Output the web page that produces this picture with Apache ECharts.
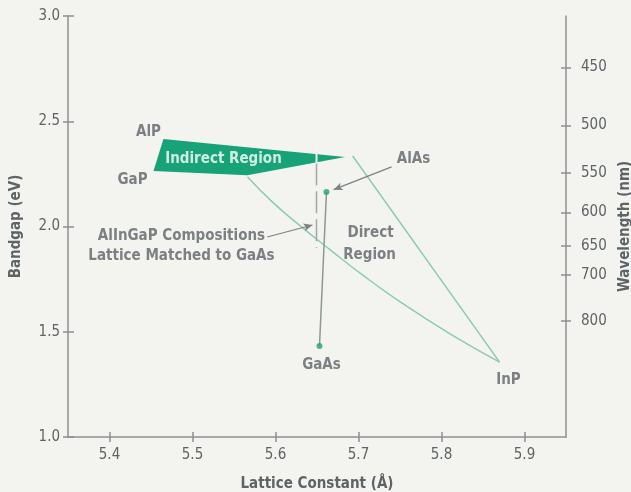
<!DOCTYPE html>
<html>
<head>
<meta charset="utf-8">
<script src="https://cdn.jsdelivr.net/npm/echarts@6/dist/echarts.min.js"></script>
<style>
  html, body { margin: 0; padding: 0; background: #f3f4ef; }
  #chart { width: 631px; height: 492px; }
</style>
</head>
<body>
<div id="chart"></div>
<script>
// ---- data ----
const xTicks = [5.4, 5.5, 5.6, 5.7, 5.8, 5.9];
const bandgapTicks = [1.0, 1.5, 2.0, 2.5, 3.0];
const wavelengthTicks = [450, 500, 550, 600, 650, 700, 800];

// Indirect region polygon: AlP, tip near AlAs, bend, GaP
const indirectRegion = [[5.465, 2.416], [5.684, 2.330], [5.566, 2.243], [5.453, 2.264]];
// line from AlAs-end of indirect region to InP
const lineToInP = [[5.693, 2.335], [5.870, 1.356]];
// bowed curve from GaP-side bend to InP
const curveToInP = [[5.5663, 2.235], [5.5964, 2.116], [5.6313, 1.998], [5.6663, 1.888], [5.7048, 1.770], [5.7506, 1.641], [5.8108, 1.489], [5.8699, 1.356]];
// GaAs - AlAs line
const gaAsAlAs = [[5.653, 1.432], [5.6614, 2.164]];
// AlInGaP lattice matched (dashed) and separator inside the green region
const matchedDashed = [[5.6494, 2.300], [5.6494, 1.898]];
const matchedSeparator = [[5.6494, 2.352], [5.6494, 2.300]];
const compoundDots = [[5.653, 1.432], [5.6614, 2.164]];
// arrows [from, to]
const arrowAlAs = [[5.7398, 2.283], [5.6700, 2.175]];
const arrowAlInGaP = [[5.590, 1.950], [5.6446, 2.007]];
// annotation texts
const labelTexts = ['AlP', 'GaP', 'AlAs', 'Direct', 'Region', 'AlInGaP Compositions', 'Lattice Matched to GaAs', 'GaAs', 'InP'];
const labelCoords = [[5.447, 2.449], [5.4277, 2.221], [5.7663, 2.321], [5.7145, 1.969], [5.7133, 1.865], [5.4867, 1.955], [5.4867, 1.860], [5.6554, 1.342], [5.8807, 1.271]];
const regionText = 'Indirect Region';
const regionTextCoord = [5.5373, 2.321];

// ---- styles ----
const FONT = "'Liberation Sans Narrow', 'DejaVu Sans Condensed', sans-serif";
const AXIS_COLOR = '#8d9092';
const TEXT_COLOR = '#5e6366';
const TEAL = '#8ccbb1';
const GREEN = '#17a377';

const toWl = v => Math.round(1240 / v);
const wlValues = wavelengthTicks.map(w => 1240 / w);

const chart = echarts.init(document.getElementById('chart'), null, { renderer: 'canvas' });

function lineSeries(data, color, width, type, extra) {
  return Object.assign({
    type: 'line', data: data, symbol: 'none', silent: true,
    lineStyle: { color: color, width: width, type: type || 'solid' },
    z: 3
  }, extra || {});
}

const option = {
  backgroundColor: '#f3f4ef',
  animation: false,
  grid: { left: 68, right: 65, top: 16, bottom: 55, containLabel: false, outerBoundsMode: 'none' },
  xAxis: [
    {
      type: 'value', min: 5.35, max: 5.95, position: 'bottom',
      name: 'Lattice Constant (Å)', nameLocation: 'middle', nameGap: 40,
      nameTextStyle: { fontFamily: FONT, fontWeight: 'bold', fontSize: 15, color: TEXT_COLOR },
      axisLine: { show: true, lineStyle: { color: AXIS_COLOR, width: 1.5 } },
      axisTick: { show: true, length: 5, customValues: xTicks, lineStyle: { color: AXIS_COLOR, width: 1.5 } },
      axisLabel: { customValues: xTicks, formatter: v => v.toFixed(1), fontFamily: FONT, fontSize: 15, color: TEXT_COLOR, margin: 11 },
      splitLine: { show: false }
    },
    {
      type: 'value', min: 5.35, max: 5.95, position: 'bottom',
      axisLine: { show: false },
      axisTick: { show: true, inside: true, length: 5, customValues: xTicks, lineStyle: { color: AXIS_COLOR, width: 1.5 } },
      axisLabel: { show: false },
      splitLine: { show: false }
    }
  ],
  yAxis: [
    {
      type: 'value', min: 1, max: 3, interval: 0.5, position: 'left',
      name: 'Bandgap (eV)', nameLocation: 'middle', nameGap: 44, nameRotate: 90,
      nameTextStyle: { fontFamily: FONT, fontWeight: 'bold', fontSize: 15, color: TEXT_COLOR },
      axisLine: { show: true, lineStyle: { color: AXIS_COLOR, width: 1.5 } },
      axisTick: { show: true, length: 5, lineStyle: { color: AXIS_COLOR, width: 1.5 } },
      axisLabel: { formatter: v => v.toFixed(1), fontFamily: FONT, fontSize: 15, color: TEXT_COLOR, margin: 8 },
      splitLine: { show: false }
    },
    {
      type: 'value', min: 1, max: 3, position: 'right',
      name: 'Wavelength (nm)', nameLocation: 'middle', nameGap: 48, nameRotate: 90,
      nameTextStyle: { fontFamily: FONT, fontWeight: 'bold', fontSize: 15, color: TEXT_COLOR },
      axisLine: { show: true, onZero: false, lineStyle: { color: AXIS_COLOR, width: 1.5 } },
      axisTick: { show: true, length: 5, customValues: wlValues, lineStyle: { color: AXIS_COLOR, width: 1.5 } },
      axisLabel: { customValues: wlValues, formatter: v => String(toWl(v)), fontFamily: FONT, fontSize: 15, color: TEXT_COLOR, margin: 15 },
      splitLine: { show: false }
    },
    {
      type: 'value', min: 1, max: 3, interval: 0.5, position: 'left',
      axisLine: { show: false },
      axisTick: { show: true, inside: true, length: 6, lineStyle: { color: AXIS_COLOR, width: 1.5 } },
      axisLabel: { show: false }, splitLine: { show: false }
    },
    {
      type: 'value', min: 1, max: 3, position: 'right',
      axisLine: { show: false },
      axisTick: { show: true, inside: true, length: 5, customValues: wlValues, lineStyle: { color: AXIS_COLOR, width: 1.5 } },
      axisLabel: { show: false }, splitLine: { show: false }
    }
  ],
  series: [
    {
      type: 'custom', silent: true, z: 2,
      data: [indirectRegion[0]],
      renderItem: function (params, api) {
        return {
          type: 'polygon',
          shape: { points: indirectRegion.map(p => api.coord(p)) },
          style: { fill: GREEN }
        };
      }
    },
    lineSeries(lineToInP, TEAL, 1.5),
    lineSeries(curveToInP, TEAL, 1.5, 'solid', { smooth: 0.5 }),
    lineSeries(gaAsAlAs, '#8e9896', 1.5),
    lineSeries(matchedDashed, '#a3a7a6', 1.5, [22, 6]),
    lineSeries(matchedSeparator, '#f3f4ef', 2, 'solid', { z: 4 }),
    {
      type: 'scatter', data: compoundDots, symbol: 'circle', symbolSize: 6, silent: true, z: 5,
      itemStyle: { color: '#2a9e78' }
    },
    {
      type: 'line', data: [], silent: true,
      markLine: {
        silent: true, symbol: ['none', 'arrow'], symbolSize: [6, 9], animation: false,
        label: { show: false },
        lineStyle: { color: '#7c8283', width: 1.2, type: 'solid' },
        data: [
          [{ coord: arrowAlAs[0] }, { coord: arrowAlAs[1] }],
          [{ coord: arrowAlInGaP[0] }, { coord: arrowAlInGaP[1] }]
        ]
      }
    },
    {
      type: 'scatter', silent: true, symbolSize: 0, z: 6,
      data: labelTexts.map((t, i) => ({ name: t, value: labelCoords[i] })),
      label: {
        show: true, position: 'inside', formatter: p => p.name,
        fontFamily: FONT, fontWeight: 'bold', fontSize: 15, color: TEXT_COLOR,
        align: 'center', verticalAlign: 'middle'
      }
    },
    {
      type: 'scatter', silent: true, symbolSize: 0, z: 6,
      data: [{ name: regionText, value: regionTextCoord }],
      label: {
        show: true, position: 'inside', formatter: p => p.name,
        fontFamily: FONT, fontWeight: 'bold', fontSize: 15, color: '#ffffff',
        align: 'center', verticalAlign: 'middle'
      }
    }
  ]
};
chart.setOption(option);
</script>
</body>
</html>
